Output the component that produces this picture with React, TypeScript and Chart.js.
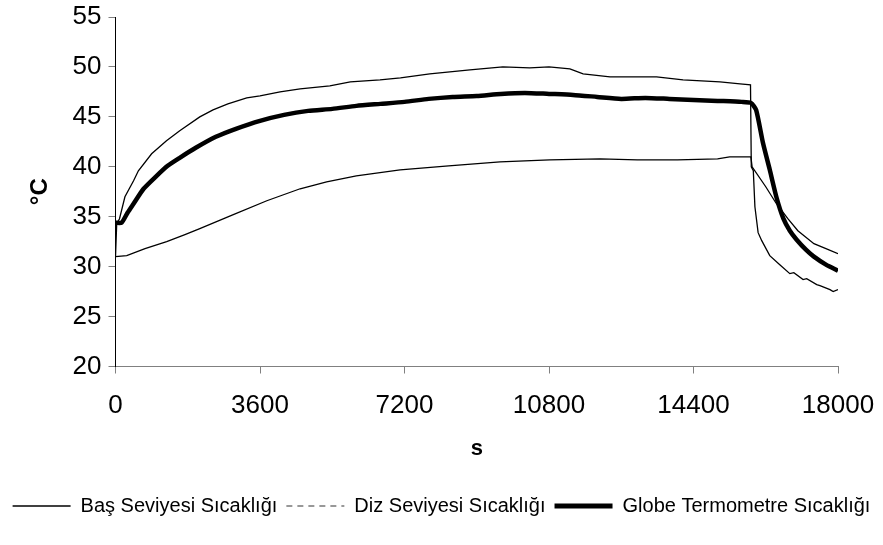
import { useEffect, useRef } from "react";
import { Chart, registerables } from "chart.js";

Chart.register(...registerables);

// Time axis (s) and temperature axis (°C) ticks
const timeTicks = [0, 3600, 7200, 10800, 14400, 18000];
const tempTicks = [20, 25, 30, 35, 40, 45, 50, 55];

const seriesNames = [
  "Baş Seviyesi Sıcaklığı",
  "Diz Seviyesi Sıcaklığı",
  "Globe Termometre Sıcaklığı",
];

// Head level temperature
const basTime = [
  0, 30, 100, 235, 450, 570, 900, 1270, 1600, 2100, 2430, 2800, 3270, 3600, 4100, 4600,
  5340, 5850, 6590, 7100, 7830, 8330, 8830, 9650, 10320, 10800, 11320, 11650, 12320,
  13480, 14140, 15060, 15560, 15820, 15840, 15890, 15930, 16010, 16100, 16300, 16550,
  16800, 16900, 17130, 17220, 17470, 17550, 17800, 17880, 18000,
];
const basTemp = [
  31.0, 34.3, 34.8, 37.0, 38.6, 39.6, 41.3, 42.6, 43.6, 45.0, 45.7, 46.3, 46.9, 47.1, 47.5, 47.8,
  48.1, 48.5, 48.7, 48.9, 49.3, 49.5, 49.7, 50.0, 49.9, 50.0, 49.8, 49.3, 49.0,
  49.0, 48.7, 48.5, 48.3, 48.2, 40.0, 39.6, 36.0, 33.4, 32.6, 31.1, 30.2,
  29.3, 29.4, 28.7, 28.8, 28.2, 28.1, 27.7, 27.5, 27.7,
];

// Knee level temperature
const dizTime = [
  0, 280, 735, 1275, 1730, 2100, 2935, 3770, 4600, 5260, 6000, 7090, 8300, 9580, 10820,
  12070, 13000, 14000, 15000, 15300, 15830, 15860, 16200, 16450, 16750, 17000, 17400,
  17700, 18000,
];
const dizTemp = [
  31.0, 31.1, 31.8, 32.5, 33.2, 33.8, 35.2, 36.6, 37.8, 38.5, 39.1, 39.7, 40.1, 40.5, 40.7,
  40.8, 40.7, 40.7, 40.8, 41.0, 41.0, 40.0, 38.0, 36.4, 34.8, 33.6, 32.3,
  31.8, 31.3,
];

// Globe thermometer temperature
const globeTime = [
  0, 150, 300, 450, 700, 1000, 1300, 1600, 2000, 2500, 3000, 3600, 4200, 4800, 5400, 6000,
  6600, 7200, 7800, 8400, 9000, 9600, 10200, 10800, 11400, 12000, 12600, 13200, 13800,
  14400, 15000, 15600, 15830, 15960, 16130, 16300, 16470, 16640, 16800, 16970, 17200,
  17400, 17700, 18000,
];
const globeTemp = [
  34.4, 34.4, 35.4, 36.3, 37.8, 39.0, 40.1, 40.9, 41.9, 43.0, 43.8, 44.6, 45.2, 45.6, 45.8, 46.1,
  46.3, 46.5, 46.8, 47.0, 47.1, 47.3, 47.4, 47.3, 47.2, 47.0, 46.8, 46.9, 46.8,
  46.7, 46.6, 46.5, 46.4, 45.7, 42.4, 39.7, 36.9, 34.8, 33.6, 32.7, 31.7,
  31.0, 30.2, 29.6,
];

const toPoints = (xs: number[], ys: number[]) => xs.map((x, i) => ({ x, y: ys[i] }));

const FONT = "'Liberation Sans', Arial, sans-serif";

export default function App() {
  const canvasRef = useRef<HTMLCanvasElement | null>(null);

  useEffect(() => {
    document.body.style.margin = "0";
    const canvas = canvasRef.current;
    if (!canvas) return;

    const chart = new Chart(canvas, {
      type: "line",
      data: {
        datasets: [
          {
            label: seriesNames[0],
            data: toPoints(basTime, basTemp),
            borderColor: "#000",
            borderWidth: 1.3,
            pointRadius: 0,
            tension: 0,
          },
          {
            label: seriesNames[1],
            data: toPoints(dizTime, dizTemp),
            borderColor: "#000",
            borderWidth: 1.3,
            pointRadius: 0,
            tension: 0,
          },
          {
            label: seriesNames[2],
            data: toPoints(globeTime, globeTemp),
            borderColor: "#000",
            borderWidth: 4.5,
            pointRadius: 0,
            tension: 0.2,
          },
        ],
      },
      options: {
        animation: false,
        responsive: false,
        devicePixelRatio: 1,
        layout: { padding: { left: 0, right: 0, top: 17, bottom: 19 } },
        plugins: {
          tooltip: { enabled: false },
          legend: {
            position: "bottom",
            labels: {
              color: "#000",
              font: { family: FONT, size: 20 },
              usePointStyle: true,
              pointStyleWidth: 58,
              padding: 9,
              generateLabels: (c: Chart) => {
                const items = Chart.defaults.plugins.legend.labels.generateLabels(c);
                return items.map((it: any, i: number) => ({
                  ...it,
                  pointStyle: "line",
                  strokeStyle: i === 1 ? "#777" : "#000",
                  lineDash: i === 1 ? [6, 5] : [],
                  lineWidth: i === 2 ? 5 : 1.3,
                  fillStyle: "#000",
                }));
              },
            },
          },
        },
        scales: {
          x: {
            type: "linear",
            min: 0,
            max: 18000,
            afterBuildTicks: (s: any) => {
              s.ticks = timeTicks.map((v) => ({ value: v }));
            },
            afterFit: (s: any) => {
              s.height = 120.5;
              s.paddingRight = 45;
            },
            grid: {
              display: true,
              drawOnChartArea: false,
              drawTicks: true,
              tickLength: 7,
              tickColor: "#808080",
            },
            border: { display: true, color: "#808080", width: 1 },
            ticks: {
              color: "#000",
              font: { family: FONT, size: 26 },
              padding: 17,
              maxRotation: 0,
              callback: (v: any) => String(v),
            },
            title: {
              display: true,
              text: "s",
              color: "#000",
              font: { family: FONT, size: 22, weight: "bold" },
              padding: { top: 0, bottom: 25 },
            },
          },
          y: {
            type: "linear",
            min: 20,
            max: 55,
            afterBuildTicks: (s: any) => {
              s.ticks = tempTicks.map((v) => ({ value: v }));
            },
            afterFit: (s: any) => {
              s.width = 115.5;
              s.paddingTop = 0;
              s.paddingBottom = 0;
            },
            grid: {
              display: true,
              drawOnChartArea: false,
              drawTicks: true,
              tickLength: 7,
              tickColor: "#808080",
            },
            border: { display: true, color: "#000", width: 1 },
            ticks: {
              color: "#000",
              font: { family: FONT, size: 26 },
              padding: 7,
              callback: (v: any) => String(v),
            },
            title: {
              display: true,
              text: "°C",
              color: "#000",
              font: { family: FONT, size: 24, weight: "bold" },
              padding: { top: 26, bottom: 0 },
            },
          },
        },
      },
    });

    return () => chart.destroy();
  }, []);

  return (
    <div style={{ position: "absolute", left: 0, top: 0, width: 883, height: 545, background: "#fff" }}>
      <canvas ref={canvasRef} width={883} height={545} />
    </div>
  );
}
